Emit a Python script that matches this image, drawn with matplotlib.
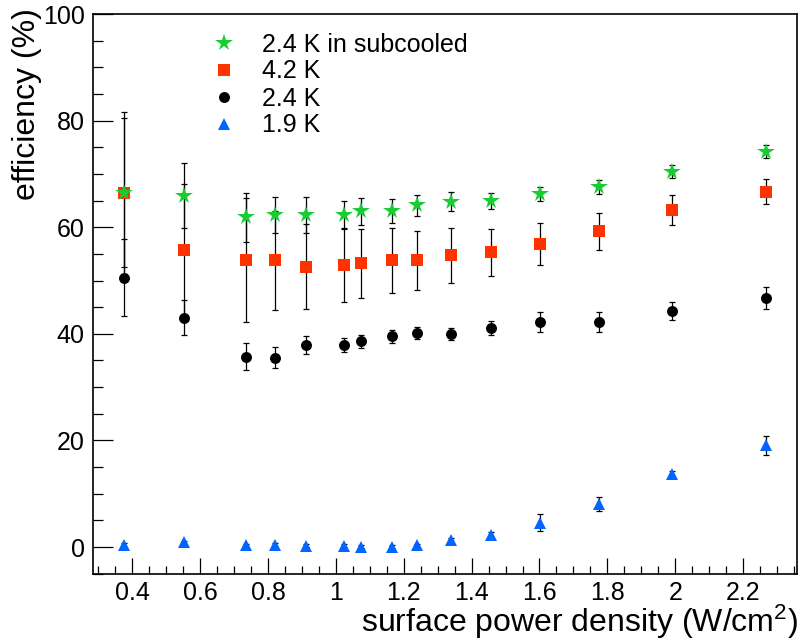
import matplotlib
matplotlib.use("Agg")
import matplotlib.pyplot as plt
from matplotlib.lines import Line2D
from matplotlib.ticker import MultipleLocator, FormatStrFormatter

plt.rcParams['font.family'] = ['Liberation Sans', 'DejaVu Sans']
plt.rcParams['mathtext.default'] = 'regular'

# ---- data ----
power = [0.376, 0.553, 0.735, 0.821, 0.913, 1.024, 1.074, 1.165, 1.238,
         1.338, 1.458, 1.601, 1.776, 1.991, 2.267]

eff_sub24 = [66.5, 65.9, 61.9, 62.3, 62.3, 62.3, 63.0, 63.0, 64.1,
             64.8, 64.9, 66.2, 67.6, 70.4, 74.2]
err_sub24 = [15.2, 6.1, 4.6, 3.4, 3.4, 2.7, 2.5, 2.3, 2.0,
             1.8, 1.5, 1.35, 1.3, 1.2, 1.15]

eff_42 = [66.5, 55.8, 53.8, 53.8, 52.6, 52.9, 53.2, 53.8, 53.8,
          54.7, 55.3, 56.9, 59.2, 63.2, 66.7]
err_42 = [13.9, 12.4, 11.6, 9.3, 8.0, 6.9, 6.5, 6.05, 5.5,
          5.1, 4.4, 3.9, 3.4, 2.85, 2.35]

eff_24 = [50.5, 43.0, 35.7, 35.5, 37.9, 37.9, 38.6, 39.5, 40.1,
          39.9, 41.1, 42.2, 42.2, 44.3, 46.7]
err_24 = [7.2, 3.3, 2.5, 2.0, 1.7, 1.4, 1.2, 1.2, 1.15,
          1.1, 1.35, 1.9, 1.85, 1.7, 2.0]

eff_19 = [0.4, 0.9, 0.3, 0.4, 0.25, 0.2, 0.06, 0.0, 0.3,
          1.25, 2.25, 4.6, 8.1, 13.7, 19.1]
err_19 = [0.3, 0.3, 0.3, 0.3, 0.3, 0.3, 0.3, 0.3, 0.3,
          0.4, 0.5, 1.6, 1.3, 0.6, 1.8]

labels = ["2.4 K in subcooled", "4.2 K", "2.4 K", "1.9 K"]
x_ticks = [0.4, 0.6, 0.8, 1.0, 1.2, 1.4, 1.6, 1.8, 2.0, 2.2]
y_ticks = [0, 20, 40, 60, 80, 100]

# ---- figure ----
W, H = 799, 640
fig = plt.figure(figsize=(W / 100, H / 100), dpi=100)
L, R, T, B = 93, 797, 14, 573.7
ax = fig.add_axes([L / W, 1 - B / H, (R - L) / W, (B - T) / H])

STAR_MS = 13.0
series = [
    (eff_24, err_24, 'o', 'black', 7.9, 3),
    (eff_42, err_42, 's', '#ff3300', 8.0, 4),
    (eff_sub24, err_sub24, '*', '#19cc33', STAR_MS, 5),
    (eff_19, err_19, '^', '#0066ff', 9.0, 6),
]
for vals, errs, mk, col, ms, z in series:
    ax.errorbar(power, vals, yerr=errs, fmt='none', ecolor='black',
                elinewidth=0.9, capsize=2.0, capthick=0.9, zorder=2)
    ax.plot(power, vals, linestyle='none', marker=mk, color=col,
            markersize=ms, markeredgewidth=0, zorder=z)

ax.set_xlim(0.284, 2.359)
ax.set_ylim(-5, 100)
ax.set_xticks(x_ticks)
ax.set_yticks(y_ticks)
ax.xaxis.set_major_formatter(FormatStrFormatter('%g'))
ax.xaxis.set_minor_locator(MultipleLocator(0.05))
ax.yaxis.set_minor_locator(MultipleLocator(5))

ax.tick_params(axis='both', which='both', direction='in', top=False,
               right=False, labelsize=18, width=0.9)
ax.tick_params(axis='y', which='major', length=14.4, pad=6)
ax.tick_params(axis='y', which='minor', length=7.2)
ax.tick_params(axis='x', which='major', length=11.3, pad=5)
ax.tick_params(axis='x', which='minor', length=5.8)
for sp in ax.spines.values():
    sp.set_linewidth(1.2)

fig.text(798 / W, 1 - 632 / H, "surface power density (W/cm$^{2}$)",
         fontsize=23, ha='right', va='baseline')
fig.text(27 / W, 1 - 8 / H, "efficiency (%)", fontsize=23,
         rotation=90, ha='center', va='top')

handles = [
    Line2D([], [], linestyle='none', marker='*', color='#19cc33',
           markersize=STAR_MS, markeredgewidth=0),
    Line2D([], [], linestyle='none', marker='s', color='#ff3300',
           markersize=8.0, markeredgewidth=0),
    Line2D([], [], linestyle='none', marker='o', color='black',
           markersize=7.9, markeredgewidth=0),
    Line2D([], [], linestyle='none', marker='^', color='#0066ff',
           markersize=9.0, markeredgewidth=0),
]
ax.legend(handles, labels, loc='upper left',
          bbox_to_anchor=(211.5 / W, 1 - 32.5 / H),
          bbox_transform=fig.transFigure, frameon=False, fontsize=18,
          handlelength=1.0, handletextpad=1.0, labelspacing=0.12,
          borderpad=0, borderaxespad=0, numpoints=1)

fig.savefig("out.png", dpi=100)
